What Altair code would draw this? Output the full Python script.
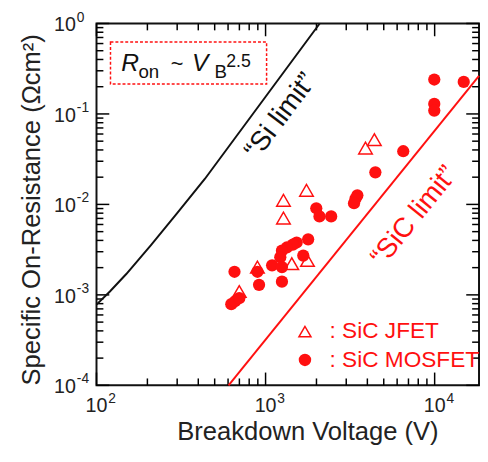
import altair as alt
import pandas as pd

# ---------------- data ----------------
mos_v = [9950, 14860, 9950, 9950, 6520, 4460, 3490, 3400, 3335, 1995, 2083, 2443,
         1786, 1527, 1450, 1337, 1250, 1222, 1671, 1093, 1250, 895, 655, 915, 1250,
         627, 660, 699]
mos_r = [0.24, 0.226, 0.129, 0.109, 0.0387, 0.0226, 0.0126, 0.0115, 0.0103, 0.00906,
         0.00736, 0.00736, 0.00411, 0.00379, 0.0036, 0.00334, 0.00308, 0.00261, 0.00272,
         0.00212, 0.00203, 0.0018, 0.0018, 0.00129, 0.0014, 0.00079, 0.00085, 0.00092]

jfet_v = [1276, 1746, 1276, 1429, 1770, 895, 699, 3900, 4400]
jfet_r = [0.0111, 0.0143, 0.00706, 0.00221, 0.0024, 0.00203, 0.00109, 0.042, 0.052]

si_v = [100, 120, 150, 210, 300, 437, 1000, 2090]
si_r = [7.8e-4, 1.09e-3, 1.7e-3, 3.55e-3, 8.0e-3, 0.0191, 0.155, 1.0]

sic_v = [604, 18300]
sic_r = [1e-4, 0.264]

x_major = [100, 1000, 10000]
x_minor = [200, 300, 400, 500, 600, 700, 800, 900,
           2000, 3000, 4000, 5000, 6000, 7000, 8000, 9000]
y_major = [1e-4, 1e-3, 1e-2, 1e-1, 1]
y_minor = [k * 10.0 ** e for e in (-4, -3, -2, -1) for k in range(2, 10)]

x_lab_vals = [100, 1000, 10000]
x_lab_exp = ["2", "3", "4"]
y_lab_vals = [1, 0.1, 0.01, 0.001, 0.0001]
y_lab_exp = ["0", "-1", "-2", "-3", "-4"]

# ---------------- geometry / styles ----------------
W, H = 389, 368
XMIN, XMAX, YMIN, YMAX = 100, 18300, 1e-4, 1
XDEC = W / 2.2625          # px per decade on x
YDEC = H / 4.0             # px per decade on y
RED = "#ff1010"
FONT = "Liberation Sans"

xs = alt.Scale(type="log", domain=[XMIN, XMAX])
ys = alt.Scale(type="log", domain=[YMIN, YMAX])

xaxis = alt.Axis(title="Breakdown Voltage (V)", labels=False, ticks=False, domain=False,
                 grid=False, titleFontSize=26, titleFont=FONT, titleFontWeight="normal",
                 titleColor="#222", titleX=W / 2 + 20, titleY=55,
                 titleBaseline="alphabetic", titleAlign="center")
yaxis = alt.Axis(title="Specific On-Resistance (Ωcm²)", labels=False, ticks=False,
                 domain=False, grid=False, titleFontSize=26, titleFont=FONT,
                 titleFontWeight="normal", titleColor="#222", titleAngle=270,
                 titleX=-53, titleY=H / 2 + 5, titleBaseline="bottom", titleAlign="center")


def X(f="x"):
    return alt.X(f"{f}:Q", scale=xs, axis=xaxis)


def Y(f="y"):
    return alt.Y(f"{f}:Q", scale=ys, axis=yaxis)


layers = []

# inward ticks on all four sides (rules through the log scales)
for vals, L in ((x_major, 13), (x_minor, 7)):
    f = 10 ** (L / YDEC)
    n = len(vals)
    for y0, y1 in ((YMIN, YMIN * f), (YMAX / f, YMAX)):
        d = pd.DataFrame({"x": vals, "y": [y0] * n, "y2": [y1] * n})
        layers.append(alt.Chart(d).mark_rule(color="black", strokeWidth=1.5).encode(
            x=X(), y=Y(), y2="y2:Q"))
for vals, L in ((y_major, 13), (y_minor, 7)):
    f = 10 ** (L / XDEC)
    n = len(vals)
    for x0, x1 in ((XMIN, XMIN * f), (XMAX / f, XMAX)):
        d = pd.DataFrame({"y": vals, "x": [x0] * n, "x2": [x1] * n})
        layers.append(alt.Chart(d).mark_rule(color="black", strokeWidth=1.5).encode(
            y=Y(), x=X(), x2="x2:Q"))

# tick labels with superscript exponents
xl = pd.DataFrame({"x": x_lab_vals, "b": ["10"] * 3, "e": x_lab_exp})
layers.append(alt.Chart(xl).mark_text(font=FONT, fontSize=20, align="center",
                                      baseline="middle", color="#222").encode(
    x=X(), y=alt.value(H + 21), text="b:N"))
layers.append(alt.Chart(xl).mark_text(font=FONT, fontSize=14, align="left",
                                      baseline="middle", dx=12, color="#222").encode(
    x=X(), y=alt.value(H + 14), text="e:N"))
yl = pd.DataFrame({"y": y_lab_vals, "b": ["10"] * 5, "e": y_lab_exp})
layers.append(alt.Chart(yl).mark_text(font=FONT, fontSize=20, align="right",
                                      baseline="middle", dy=2, color="#222").encode(
    y=Y(), x=alt.value(-21), text="b:N"))
layers.append(alt.Chart(yl).mark_text(font=FONT, fontSize=14, align="left",
                                      baseline="middle", dy=-6, color="#222").encode(
    y=Y(), x=alt.value(-20), text="e:N"))

# limit lines (their data stay inside the domain, so no clipping is needed)
layers.append(alt.Chart(pd.DataFrame({"x": si_v, "y": si_r})).mark_line(
    color="#111", strokeWidth=2).encode(x=X(), y=Y()))
layers.append(alt.Chart(pd.DataFrame({"x": sic_v, "y": sic_r})).mark_line(
    color=RED, strokeWidth=2).encode(x=X(), y=Y()))

# data points
layers.append(alt.Chart(pd.DataFrame({"x": jfet_v, "y": jfet_r})).mark_point(
    shape="triangle-up", filled=True, fill="white", stroke=RED, strokeWidth=1.5,
    size=190, opacity=1).encode(x=X(), y=Y()))
layers.append(alt.Chart(pd.DataFrame({"x": mos_v, "y": mos_r})).mark_point(
    shape="circle", filled=True, color=RED, size=155, opacity=1).encode(x=X(), y=Y()))

# annotations (data coordinates)
ann_box = pd.DataFrame({"x": [121], "x2": [1014], "y": [0.623], "y2": [0.2137]})
layers.append(alt.Chart(ann_box).mark_rect(filled=False, stroke=RED, strokeWidth=1.5,
                                           strokeDash=[3, 2]).encode(
    x=X(), x2=alt.X2("x2:Q"), y=Y(), y2=alt.Y2("y2:Q")))


def txt(x, y, s, size, color="#111", style="normal", align="left",
        baseline="alphabetic", angle=0):
    df = pd.DataFrame({"x": [x], "y": [y], "t": [s]})
    kw = dict(font=FONT, fontSize=size, color=color, fontStyle=style, align=align,
              baseline=baseline)
    if angle:
        kw["angle"] = angle
    return alt.Chart(df).mark_text(**kw).encode(x=X(), y=Y(), text="t:N")


layers += [
    txt(140, 0.295, "R", 25, style="italic"),
    txt(177, 0.248, "on", 19),
    txt(275, 0.295, "~", 22),
    txt(367, 0.295, "V", 25, style="italic"),
    txt(499, 0.248, "B", 19),
    txt(585, 0.334, "2.5", 18),
    txt(1230, 0.094, "“Si limit”", 28, align="center", baseline="middle", angle=307),
    txt(7600, 0.0074, "“SiC limit”", 28, color=RED, align="center",
        baseline="middle", angle=309),
    txt(2390, 3.93e-4, ": SiC JFET", 23, color=RED, baseline="middle"),
    txt(2390, 1.91e-4, ": SiC MOSFET", 23, color=RED, baseline="middle"),
]

leg_t = pd.DataFrame({"x": [1710], "y": [3.93e-4]})
leg_c = pd.DataFrame({"x": [1710], "y": [1.91e-4]})
layers.append(alt.Chart(leg_t).mark_point(shape="triangle-up", filled=False, stroke=RED,
                                          strokeWidth=1.5, size=150, opacity=1).encode(
    x=X(), y=Y()))
layers.append(alt.Chart(leg_c).mark_point(shape="circle", filled=True, color=RED,
                                          size=160, opacity=1).encode(x=X(), y=Y()))

chart = alt.layer(*layers).properties(
    width=W, height=H,
    autosize=alt.AutoSizeParams(type="none"),
    padding={"left": 90, "top": 12, "right": 1, "bottom": 61},
).configure_view(stroke="#111", strokeWidth=2)

chart.save("out.html", embed_options={"renderer": "svg", "actions": False})
